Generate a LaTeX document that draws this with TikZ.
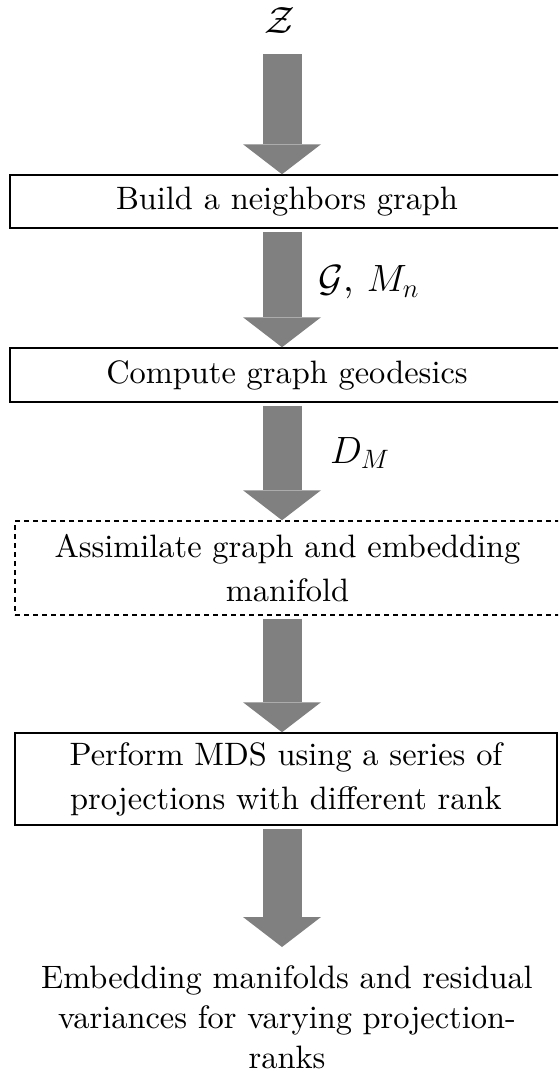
\RequirePackage{fix-cm}
\documentclass[tikz,border=0pt]{standalone}
\usepackage{fontspec}
\setmainfont{lmroman10-regular.otf}[ItalicFont=lmroman10-italic.otf, BoldFont=lmroman10-bold.otf]
\usetikzlibrary{arrows.meta}
\definecolor{flowgray}{RGB}{128,128,128}
\tikzset{
  box/.style={draw, line width=0.75pt, inner sep=0pt, align=center, font=\fontsize{16.2}{22}\selectfont},
  lbl/.style={inner sep=0pt, align=center, font=\fontsize{16.2}{20}\selectfont},
  mlbl/.style={inner sep=0pt, font=\fontsize{19}{22}\selectfont},
  flow/.style={flowgray, line width=19.5pt, -{Triangle[width=39pt,length=15pt,line width=0pt]}, shorten <=1.5pt}
}
\begin{document}
\begin{tikzpicture}[x=0.5pt, y=-0.5pt]
\useasboundingbox (0,0) rectangle (558,1072);
\clip (0,0) rectangle (558,1072);
\coordinate (ax) at (282,0);
\node[mlbl] (z) at (280,21) {$\mathcal{Z}$};
\node[box, minimum width=277pt, minimum height=26.5pt] (b1) at (287,201.5) {Build a neighbors graph};
\node[box, minimum width=277pt, minimum height=27pt] (b2) at (287,375) {Compute graph geodesics};
\node[box, dash pattern=on 2.5pt off 2pt, minimum width=272.5pt, minimum height=47pt] (b3) at (287.5,568) {Assimilate graph and embedding\\manifold};
\node[box, minimum width=271pt, minimum height=46pt] (b4) at (286,779) {Perform MDS using a series of\\projections with different rank};
\node[lbl] (res) at (287,1017) {Embedding manifolds and residual\\variances for varying projection-\\ranks};
\node[mlbl] (gm) at (369,282) {$\mathcal{G}$, $M_n$};
\node[mlbl] (dm) at (360,453) {$D_M$};
\draw[flow, shorten <=10pt] (z.south -| ax) -- (b1.north -| ax);
\draw[flow] (b1.south -| ax) -- (b2.north -| ax);
\draw[flow] (b2.south -| ax) -- (b3.north -| ax);
\draw[flow] (b3.south -| ax) -- (b4.north -| ax);
\draw[flow, shorten >=9pt] (b4.south -| ax) -- (res.north -| ax);
\end{tikzpicture}
\end{document}
